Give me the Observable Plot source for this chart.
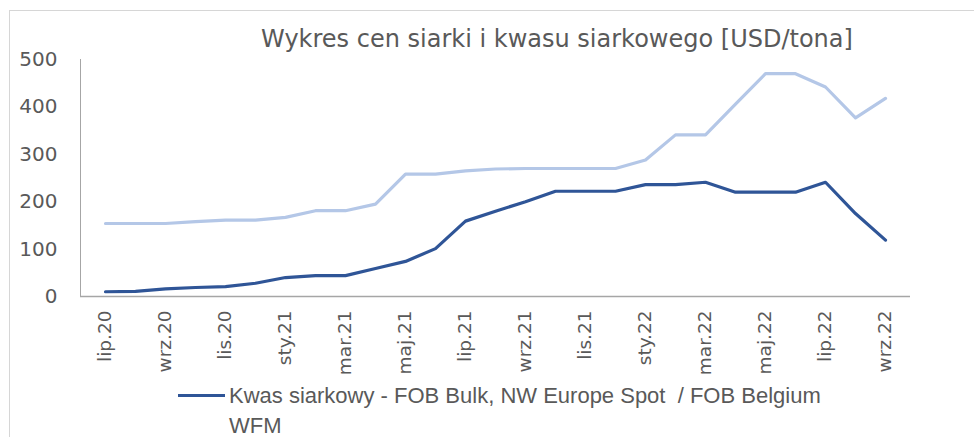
<!DOCTYPE html>
<html>
<head>
<meta charset="utf-8">
<script src="https://cdn.jsdelivr.net/npm/d3@7"></script>
<script src="https://cdn.jsdelivr.net/npm/@observablehq/plot@0.6"></script>
<style>
  html, body { margin: 0; padding: 0; background: #fff; overflow: hidden; }
  #wrap { position: relative; width: 974px; height: 437px; overflow: hidden; }
  #border { position: absolute; left: 9px; top: 10px; width: 1200px; height: 1200px; border: 1px solid #d6d6d6; box-sizing: border-box; }
  #chart { position: absolute; left: 0; top: 0; }
  #title { position: absolute; left: 0; width: 1114px; top: 25px; text-align: center; font-family: "DejaVu Sans", sans-serif; font-size: 24px; line-height: 28px; color: #595959; white-space: nowrap; }
  #legend { position: absolute; left: 178px; top: 381px; font-family: "Liberation Sans Narrow", "Liberation Sans", sans-serif; font-size: 22px; color: #595959; line-height: 30px; }
  #legend .sw { display: inline-block; width: 47px; height: 3px; background: #2F5597; vertical-align: middle; margin-right: 4px; position: relative; top: -2px; }
  #legend .l2 { padding-left: 51px; }
</style>
</head>
<body>
<div id="wrap">
  <div id="border"></div>
  <div id="chart"></div>
  <div id="title">Wykres cen siarki i kwasu siarkowego [USD/tona]</div>
  <div id="legend"><div><span class="sw"></span>Kwas siarkowy - FOB Bulk, NW Europe Spot &nbsp;/ FOB Belgium</div><div class="l2">WFM</div></div>
</div>
<script>
const months = ["lip.20","sie.20","wrz.20","paź.20","lis.20","gru.20","sty.21","lut.21","mar.21","kwi.21","maj.21","cze.21","lip.21","sie.21","wrz.21","paź.21","lis.21","gru.21","sty.22","lut.22","mar.22","kwi.22","maj.22","cze.22","lip.22","sie.22","wrz.22"];
const acid = [10,11,16,19,21,28,40,44,44,59,74,101,159,180,200,222,222,222,236,236,241,220,220,220,241,175,119];
const sulfur = [154,154,154,158,161,161,167,181,181,195,258,258,265,269,270,270,270,270,288,341,341,406,470,470,442,377,418];
const yTicks = [0,100,200,300,400,500];
const xTickLabels = months.filter((d, i) => i % 2 === 0);

const rows = months.map((m, i) => ({month: m, value: sulfur[i], series: "siarka"}));
const rowsAcid = months.map((m, i) => ({month: m, value: acid[i], series: "kwas"}));

const chart = Plot.plot({
  width: 974,
  height: 437,
  marginLeft: 80,
  marginRight: 64,
  marginTop: 59,
  marginBottom: 141,
  style: {fontFamily: "DejaVu Sans, sans-serif", color: "#595959", background: "transparent", overflow: "visible"},
  x: {type: "point", domain: months, padding: 0.5},
  y: {domain: [0, 500]},
  marks: [
    Plot.axisY({ticks: yTicks, tickSize: 0, tickPadding: 23, fontSize: 20, label: null, tickFormat: d => String(d)}),
    Plot.axisX({ticks: xTickLabels, tickSize: 0, tickPadding: 14, tickRotate: -90, fontSize: 18.5, label: null}),
    Plot.frame({anchor: "left", stroke: "#a6a6a6"}),
    Plot.ruleY([0], {stroke: "#a6a6a6", strokeWidth: 1.3}),
    Plot.line(rows, {x: "month", y: "value", stroke: "#B4C7E7", strokeWidth: 3.2}),
    Plot.line(rowsAcid, {x: "month", y: "value", stroke: "#2F5597", strokeWidth: 3.2})
  ]
});
document.getElementById("chart").appendChild(chart);
</script>
</body>
</html>
